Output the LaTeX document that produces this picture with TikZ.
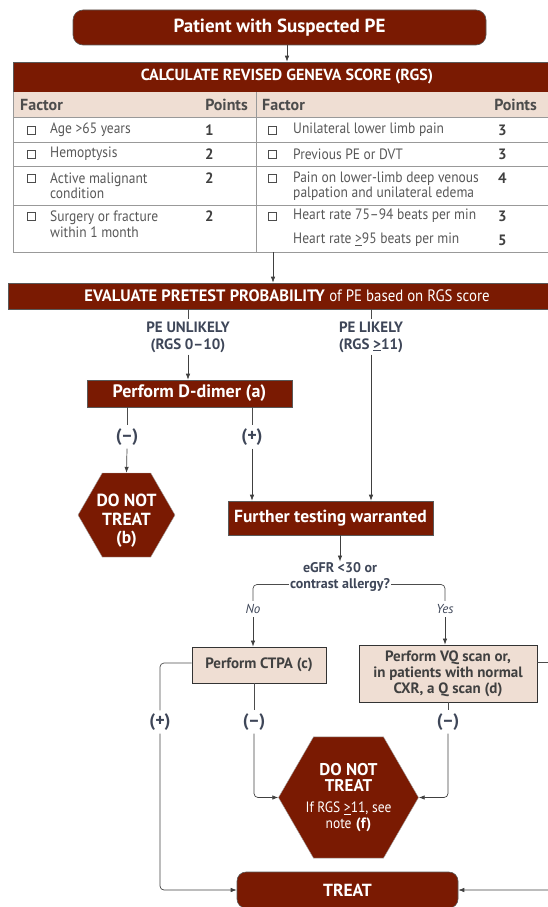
\documentclass[tikz,border=0pt]{standalone}
\usepackage{fontspec}
\setmainfont{PT Sans}
\newfontfamily\condfont{PT Sans}[FakeStretch=0.9, Ligatures=TeX]
\usetikzlibrary{arrows.meta,shapes.geometric}

\definecolor{pered}{RGB}{122,26,2}
\definecolor{pebeige}{RGB}{239,222,211}
\definecolor{pelabel}{RGB}{62,70,88}
\definecolor{petext}{RGB}{88,88,88}

\tikzset{
  redbox/.style={draw=black!65, fill=pered, text=white, font=\bfseries, inner sep=0pt, line width=0.6pt},
  tanbox/.style={draw=black!80, fill=pebeige, text=black!75, font=\bfseries\fontsize{15}{16}\selectfont, align=center, inner sep=0pt, line width=0.8pt},
  hexnode/.style={regular polygon, regular polygon sides=6, draw=black!35, fill=pered, text=white, align=center, inner sep=0pt},
  hextext/.style={text=white, align=center, inner sep=0pt},
  branch/.style={text=pelabel, font=\bfseries\fontsize{15}{17}\selectfont, align=center, inner sep=2pt},
  sign/.style={text=pelabel, font=\bfseries\fontsize{18}{18}\selectfont, inner sep=3pt},
  cell/.style={text=petext, font=\condfont\fontsize{15}{15.5}\selectfont, align=left, inner sep=0pt},
  headcell/.style={text=black!70, font=\bfseries\fontsize{16}{16}\selectfont, inner sep=0pt},
  pts/.style={text=black!75, font=\bfseries\fontsize{15}{15}\selectfont, inner sep=0pt},
  chkbox/.style={draw=black!70, line width=0.6pt, minimum size=8pt, inner sep=0pt},
  grid/.style={draw=black!40, line width=0.7pt},
  line/.style={draw=black!70, line width=0.7pt, rounded corners=4pt},
  flow/.style={draw=black!75, line width=0.7pt, -{Latex[length=6pt,width=4.5pt]}},
}

\begin{document}
\begin{tikzpicture}[x=1pt,y=-1pt]
  \useasboundingbox (0,0) rectangle (548,907);

  % Start
  \node[redbox, rounded corners=10pt, minimum width=413pt, minimum height=35pt,
        font=\bfseries\fontsize{19}{21}\selectfont] (patient) at (279.5,27.5) {Patient with Suspected PE};

  % Revised Geneva score table
  \node[redbox, minimum width=548pt, minimum height=30pt,
        font=\bfseries\fontsize{16}{18}\selectfont] (rgs) at (287,77) {CALCULATE REVISED GENEVA SCORE (RGS)};
  \fill[pebeige] (13,92) rectangle (561,117);
  \draw[grid] (13,92) -- (13,252) -- (561,252);
  \draw[grid] (256,92) -- (256,252);
  \draw[grid] (13,117) -- (561,117);
  \draw[grid] (13,142) -- (561,142);
  \draw[grid] (13,166) -- (561,166);
  \draw[grid] (13,205) -- (561,205);

  \node[headcell, anchor=west] (fhead) at (20,105) {Factor};
  \node[headcell, anchor=east] (phead) at (248,105) {Points};
  \node[headcell, anchor=west] (fheadb) at (262,105) {Factor};
  \node[headcell, anchor=east] (pheadb) at (537,105) {Points};

  \node[chkbox] (c1) at (31,130) {};
  \node[cell, anchor=west] (age) at (50,130) {Age >65 years};
  \node[pts, anchor=west] (agept) at (205,130) {1};
  \node[chkbox] (c2) at (31,154) {};
  \node[cell, anchor=west] (hemo) at (50,154) {Hemoptysis};
  \node[pts, anchor=west] (hemopt) at (205,154) {2};
  \node[chkbox] (c3) at (31,178) {};
  \node[cell, anchor=west] (cancer) at (50,186) {Active malignant\\condition};
  \node[pts, anchor=west] (cancerpt) at (205,178) {2};
  \node[chkbox] (c4) at (31,216) {};
  \node[cell, anchor=west] (surgery) at (50,224) {Surgery or fracture\\within 1 month};
  \node[pts, anchor=west] (surgerypt) at (205,216) {2};

  \node[chkbox] (c5) at (272,130) {};
  \node[cell, anchor=west] (pain) at (293,130) {Unilateral lower limb pain};
  \node[pts, anchor=west] (painpt) at (498,130) {3};
  \node[chkbox] (c6) at (272,154) {};
  \node[cell, anchor=west] (prev) at (293,154) {Previous PE or DVT};
  \node[pts, anchor=west] (prevpt) at (498,154) {3};
  \node[chkbox] (c7) at (272,178) {};
  \node[cell, anchor=west] (palp) at (293,186) {Pain on lower-limb deep venous\\palpation and unilateral edema};
  \node[pts, anchor=west] (palppt) at (498,178) {4};
  \node[chkbox] (c8) at (272,216) {};
  \node[cell, anchor=west] (hrlow) at (293,216) {Heart rate 75–94 beats per min};
  \node[pts, anchor=west] (hrlowpt) at (498,216) {3};
  \node[cell, anchor=west] (hrhigh) at (293,240) {Heart rate \underline{>}95 beats per min};
  \node[pts, anchor=west] (hrhighpt) at (498,240) {5};

  \draw[flow] (patient.south -| rgs.north) -- (rgs.north);

  % Pretest probability
  \node[redbox, minimum width=558pt, minimum height=26pt,
        font=\fontsize{16.5}{18}\selectfont] (evaluate) at (287,296)
        {\textbf{EVALUATE PRETEST PROBABILITY} {\condfont of PE based on RGS score}};
  \draw[flow] (273,252) -- (evaluate.north -| 273,0);

  \node[branch] (unlikely) at (188,337) {PE UNLIKELY\\(RGS 0–10)};
  \node[branch] (likely) at (371,337) {PE LIKELY\\(RGS \underline{>}11)};
  \node[redbox, minimum width=205pt, minimum height=27pt,
        font=\bfseries\fontsize{18}{20}\selectfont] (ddimer) at (189.5,393.5) {Perform D-dimer (a)};
  \node[sign] (dneg) at (127,437) {(–)};
  \node[sign] (dpos) at (252,437) {(+)};
  \node[hexnode, minimum size=97pt,
        label={[hextext, yshift=-6pt, font=\bfseries\fontsize{17.5}{18.5}\selectfont]center:{DO NOT\\TREAT\\(b)}}] (notreat) at (126.5,515) {};
  \node[redbox, minimum width=205pt, minimum height=34pt,
        font=\bfseries\fontsize{17.5}{20}\selectfont] (further) at (330.5,518) {Further testing warranted};

  \draw[line] (evaluate.south -| unlikely) -- (unlikely.north);
  \draw[line] (evaluate.south -| likely) -- (likely.north);
  \draw[flow] (unlikely.south) -- (unlikely.south |- ddimer.north);
  \draw[line] (ddimer.south -| dneg) -- (dneg.north);
  \draw[line] (ddimer.south -| dpos) -- (dpos.north);
  \draw[flow] (dneg.south) -- (notreat.north);
  \draw[flow] (dpos.south) -- (dpos.south |- further.north);
  \draw[flow] (likely.south) -- (likely.south |- further.north);

  % Imaging choice
  \node[text=pelabel, font=\bfseries\fontsize{14}{15.5}\selectfont, align=center, inner sep=1pt] (question) at (340,577) {eGFR <30 or\\contrast allergy?};
  \node[text=pelabel, font=\itshape\fontsize{13}{14}\selectfont] (no) at (253,609) {No};
  \node[text=pelabel, font=\itshape\fontsize{13}{14}\selectfont] (yes) at (445,609) {Yes};
  \node[tanbox, minimum width=134pt, minimum height=36pt] (ctpa) at (259,665) {Perform CTPA (c)};
  \node[tanbox, minimum width=178pt, minimum height=57pt] (vq) at (448,673.5) {Perform VQ scan or,\\in patients with normal\\CXR, a Q scan (d)};

  \draw[flow] (further.south -| question.north) -- (question.north);
  \draw[line] ([yshift=-7.5pt]question.west) -| (no.north);
  \draw[line] ([yshift=-7.5pt]question.east) -| (yes.north);
  \draw[flow] (no.south) -- (no.south |- ctpa.north);
  \draw[flow] (yes.south) -- (yes.south |- vq.north);

  % Results
  \node[sign] (ctpapos) at (160,722) {(+)};
  \node[sign] (ctpaneg) at (254,722) {(–)};
  \node[sign] (vqneg) at (448,722) {(–)};
  \node[sign] (vqpos) at (558,722) {(+)};
  \node[hexnode, minimum size=107pt, font=\bfseries\fontsize{17}{16}\selectfont] (notreatb) at (348.5,797.5)
       {DO NOT\\TREAT\\[5pt]{\mdseries\condfont\fontsize{15}{16}\selectfont If RGS \underline{>}11, see}\\{\mdseries\condfont\fontsize{15}{16}\selectfont note} {\fontsize{15}{16}\selectfont(f)}};
  \node[redbox, rounded corners=9pt, minimum width=221pt, minimum height=36pt,
        font=\bfseries\fontsize{17.5}{19}\selectfont] (treat) at (347.5,890) {TREAT};

  \draw[line] ([yshift=2pt]ctpa.west) -| (ctpapos.north);
  \draw[line] (ctpa.south -| ctpaneg) -- (ctpaneg.north);
  \draw[line] (vq.south -| vqneg) -- (vqneg.north);
  \draw[line] ([yshift=11pt]vq.east) -| (vqpos.north);
  \draw[line, flow] (ctpapos.south) |- (treat.west);
  \draw[line, flow] (ctpaneg.south) |- (notreatb.west);
  \draw[line, flow] (vqneg.south) |- (notreatb.east);
  \draw[line, flow] (vqpos.south) |- (treat.east);
\end{tikzpicture}
\end{document}
